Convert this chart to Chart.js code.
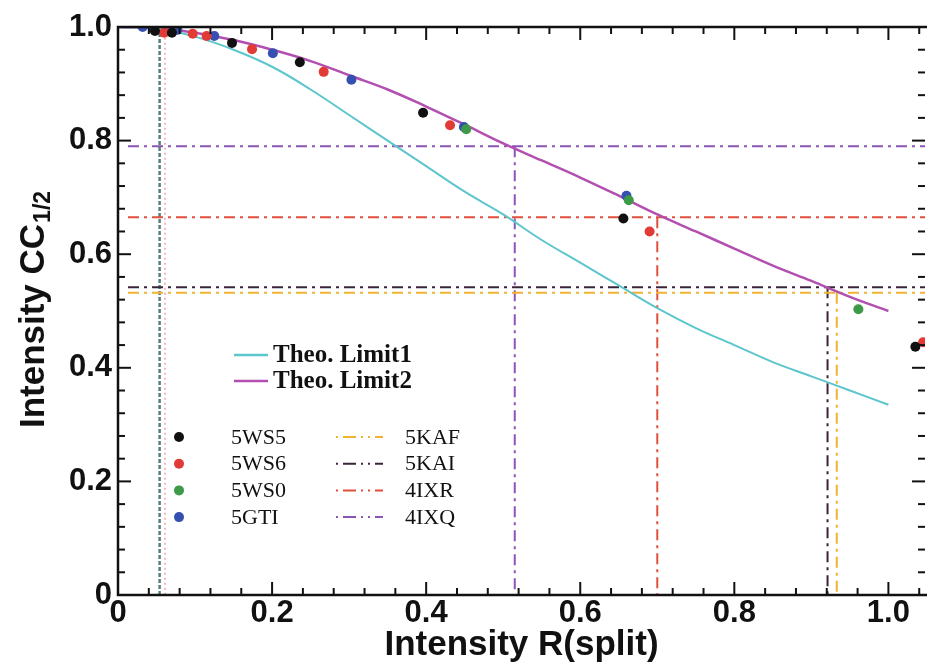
<!DOCTYPE html>
<html>
<head>
<meta charset="utf-8">
<script src="https://cdn.jsdelivr.net/npm/chart.js@4/dist/chart.umd.min.js"></script>
<style>
html, body { margin: 0; padding: 0; background: #fff; }
</style>
</head>
<body>
<canvas id="cc" width="930" height="666"></canvas>
<script>
// theoretical limits
const theoX = [0, 0.05, 0.1, 0.15, 0.2, 0.25, 0.3, 0.35, 0.4, 0.45, 0.5, 0.55, 0.6, 0.65, 0.7, 0.75, 0.8, 0.85, 0.9, 0.95, 1.0];
const theo1 = [1.0, 0.998, 0.983, 0.96, 0.93, 0.89, 0.845, 0.8, 0.755, 0.71, 0.67, 0.625, 0.585, 0.545, 0.505, 0.47, 0.44, 0.41, 0.385, 0.36, 0.335];
const theo2 = [1.0, 0.998, 0.99, 0.977, 0.96, 0.94, 0.915, 0.89, 0.86, 0.828, 0.795, 0.765, 0.735, 0.703, 0.67, 0.64, 0.61, 0.58, 0.553, 0.525, 0.50];

// measured points
const ws5X = [0.048, 0.07, 0.148, 0.236, 0.396, 0.656, 1.035];
const ws5Y = [0.993, 0.99, 0.972, 0.938, 0.849, 0.663, 0.437];
const ws6X = [0.06, 0.097, 0.115, 0.174, 0.267, 0.431, 0.69, 1.045];
const ws6Y = [0.99, 0.988, 0.984, 0.961, 0.921, 0.827, 0.64, 0.445];
const ws0X = [0.452, 0.663, 0.961];
const ws0Y = [0.82, 0.695, 0.503];
const gtiX = [0.032, 0.045, 0.077, 0.125, 0.201, 0.303, 0.449, 0.66];
const gtiY = [1.0, 0.998, 0.995, 0.984, 0.954, 0.907, 0.824, 0.703];

// reference resolution lines
const refNames = ['5KAF', '5KAI', '4IXR', '4IXQ'];
const refX = [0.933, 0.921, 0.70, 0.515];
const refY = [0.532, 0.542, 0.665, 0.79];
const refColors = ['#f2b233', '#3b2438', '#e0503c', '#8a55b5'];

const edgeX = [0.054, 0.061];

const xMax = 1.0475;

function pts(xs, ys) {
    return xs.map((x, i) => ({ x: x, y: ys[i] }));
}

const datasets = [];
const dotNames = ['5WS5', '5WS6', '5WS0', '5GTI'];
const dotColors = ['#111111', '#e23a36', '#3e9a48', '#3550b0'];
[[ws5X, ws5Y], [ws6X, ws6Y], [ws0X, ws0Y], [gtiX, gtiY]].forEach((s, i) => {
    datasets.push({
        label: dotNames[i], data: pts(s[0], s[1]), showLine: false,
        pointRadius: 5, pointBackgroundColor: dotColors[i], pointBorderWidth: 0, order: 0
    });
});

datasets.push({ label: 'Theo. Limit1', data: pts(theoX, theo1), showLine: true, borderColor: '#5cc6cc', borderWidth: 2, pointRadius: 0, tension: 0.4, order: 1 });
datasets.push({ label: 'Theo. Limit2', data: pts(theoX, theo2), showLine: true, borderColor: '#b24fb0', borderWidth: 2.5, pointRadius: 0, tension: 0.4, order: 1 });

refNames.forEach((n, i) => {
    datasets.push({ label: n + ' h', data: [{ x: 0.013, y: refY[i] }, { x: xMax, y: refY[i] }], showLine: true,
        borderColor: refColors[i], borderWidth: 2, borderDash: [11, 5, 3, 5], pointRadius: 0, order: 2 });
    datasets.push({ label: n + ' v', data: [{ x: refX[i], y: refY[i] }, { x: refX[i], y: 0 }], showLine: true,
        borderColor: refColors[i], borderWidth: 2, borderDash: [11, 5, 3, 5], pointRadius: 0, order: 2 });
});

datasets.push({ label: 'edge1', data: [{ x: edgeX[0], y: 1 }, { x: edgeX[0], y: 0 }], showLine: true,
    borderColor: '#55807f', borderWidth: 2.5, borderDash: [4, 2], pointRadius: 0, order: 2 });
datasets.push({ label: 'edge2', data: [{ x: edgeX[1], y: 0.99 }, { x: edgeX[1], y: 0 }], showLine: true,
    borderColor: '#f08a90', borderWidth: 1.2, borderDash: [2, 3], pointRadius: 0, order: 2 });

// frame, inward ticks, legend and y title
const decor = {
    id: 'decor',
    afterDraw(chart) {
        const ctx = chart.ctx;
        const a = chart.chartArea;
        const xs = chart.scales.x, ys = chart.scales.y;
        ctx.save();
        ctx.strokeStyle = '#111';
        ctx.lineWidth = 2.5;
        ctx.beginPath();
        ctx.moveTo(a.right + 2, a.top);
        ctx.lineTo(a.left, a.top);
        ctx.lineTo(a.left, a.bottom);
        ctx.lineTo(a.right + 2, a.bottom);
        ctx.stroke();
        ctx.lineWidth = 2;
        for (let k = 0; k <= 26; k++) {
            const v = k * 0.04;
            const len = (k % 5 === 0) ? 13 : 7;
            const px = xs.getPixelForValue(v);
            if (v > 0 && v <= xMax) {
                ctx.beginPath(); ctx.moveTo(px, a.bottom); ctx.lineTo(px, a.bottom - len); ctx.stroke();
                ctx.beginPath(); ctx.moveTo(px, a.top); ctx.lineTo(px, a.top + len); ctx.stroke();
            }
            if (v > 0 && v < 1.0001) {
                const py = ys.getPixelForValue(v);
                ctx.beginPath(); ctx.moveTo(a.left, py); ctx.lineTo(a.left + len, py); ctx.stroke();
                ctx.beginPath(); ctx.moveTo(a.right, py); ctx.lineTo(a.right - len, py); ctx.stroke();
            }
        }

        // legend
        ctx.textBaseline = 'middle';
        ctx.fillStyle = '#111';
        ctx.font = 'bold 25px "Liberation Serif"';
        [['#5cc6cc', 'Theo. Limit1', 355], ['#b24fb0', 'Theo. Limit2', 381]].forEach(e => {
            ctx.setLineDash([]);
            ctx.strokeStyle = e[0]; ctx.lineWidth = 2.5;
            ctx.beginPath(); ctx.moveTo(234, e[2]); ctx.lineTo(268, e[2]); ctx.stroke();
            ctx.fillText(e[1], 273, e[2] + 1);
        });
        ctx.font = '22px "Liberation Serif"';
        dotNames.forEach((n, i) => {
            const y = 437 + i * 26.7;
            ctx.fillStyle = dotColors[i];
            ctx.beginPath(); ctx.arc(179, y, 5, 0, Math.PI * 2); ctx.fill();
            ctx.fillStyle = '#111';
            ctx.fillText(n, 231, y + 1);
            ctx.strokeStyle = refColors[i]; ctx.lineWidth = 2;
            ctx.setLineDash([2, 5, 13, 5, 2, 5]);
            ctx.beginPath(); ctx.moveTo(336, y); ctx.lineTo(383, y); ctx.stroke();
            ctx.setLineDash([]);
            ctx.fillText(refNames[i], 405, y + 1);
        });

        // y title with subscript
        ctx.translate(32, 310);
        ctx.rotate(-Math.PI / 2);
        ctx.textBaseline = 'alphabetic';
        ctx.font = 'bold 35px "Liberation Sans"';
        const t1 = 'Intensity CC';
        const w1 = ctx.measureText(t1).width;
        ctx.font = 'bold 23px "Liberation Sans"';
        const t2 = '1/2';
        const w2 = ctx.measureText(t2).width;
        const x0 = -(w1 + w2) / 2;
        ctx.font = 'bold 35px "Liberation Sans"';
        ctx.fillText(t1, x0, 12);
        ctx.font = 'bold 23px "Liberation Sans"';
        ctx.fillText(t2, x0 + w1 + 1, 18);
        ctx.restore();
    }
};

new Chart(document.getElementById('cc').getContext('2d'), {
    type: 'scatter',
    data: { datasets: datasets },
    options: {
        responsive: false,
        animation: false,
        layout: { padding: { top: 27, right: 0, left: 0, bottom: 0 } },
        plugins: { legend: { display: false }, tooltip: { enabled: false } },
        scales: {
            x: {
                type: 'linear', min: 0, max: xMax,
                grid: { display: false, drawTicks: false },
                border: { display: false },
                ticks: {
                    stepSize: 0.2, padding: 0, color: '#111', includeBounds: false,
                    font: { family: 'Liberation Sans', weight: 'bold', size: 31 },
                    callback: v => v === 0 ? '0' : v.toFixed(1)
                },
                title: { display: true, text: 'Intensity R(split)', color: '#111', padding: 0,
                    font: { family: 'Liberation Sans', weight: 'bold', size: 35 } },
                afterFit: s => { s.height = 71; s.paddingRight = 0; }
            },
            y: {
                type: 'linear', min: 0, max: 1.0,
                grid: { display: false, drawTicks: false },
                border: { display: false },
                ticks: {
                    stepSize: 0.2, padding: 6, color: '#111',
                    font: { family: 'Liberation Sans', weight: 'bold', size: 31 },
                    callback: v => v === 0 ? '0' : v.toFixed(1)
                },
                afterFit: s => { s.width = 118; }
            }
        }
    },
    plugins: [decor]
});
</script>
</body>
</html>
